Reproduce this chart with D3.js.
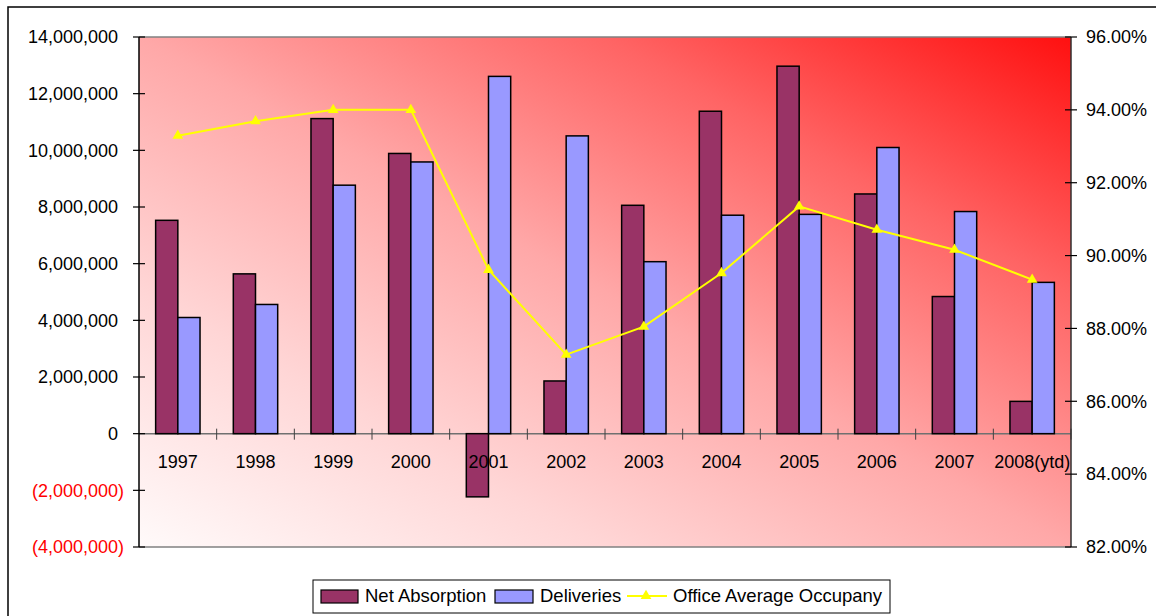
<!DOCTYPE html>
<html>
<head>
<meta charset="utf-8">
<script src="https://cdn.jsdelivr.net/npm/d3@7"></script>
<style>
  html, body { margin: 0; padding: 0; background: #fff; }
  svg { display: block; font-family: "Liberation Sans", Arial, sans-serif; }
</style>
</head>
<body>
<svg id="chart" width="1156" height="616"></svg>
<script>
// Office market: net absorption and deliveries (sq ft) with average occupancy
const categories = ["1997", "1998", "1999", "2000", "2001", "2002", "2003", "2004", "2005", "2006", "2007", "2008(ytd)"];
const netAbsorption = [7530000, 5640000, 11120000, 9890000, -2230000, 1860000, 8060000, 11380000, 12970000, 8460000, 4840000, 1140000];
const deliveries = [4100000, 4560000, 8770000, 9590000, 12610000, 10510000, 6070000, 7710000, 7740000, 10100000, 7840000, 5340000];
const occupancy = [93.29, 93.69, 94.00, 94.00, 89.61, 87.28, 88.05, 89.52, 91.35, 90.71, 90.16, 89.34];
const leftTicks = [14000000, 12000000, 10000000, 8000000, 6000000, 4000000, 2000000, 0, -2000000, -4000000];
const rightTicks = [96, 94, 92, 90, 88, 86, 84, 82];
const seriesNames = ["Net Absorption", "Deliveries", "Office Average Occupany"];

const svg = d3.select("#chart");
const plot = { left: 139, right: 1071, top: 37, bottom: 547 };
const FONT = 18;

// outer chart frame
svg.append("rect")
  .attr("x", 8).attr("y", 7).attr("width", 1160).attr("height", 620)
  .attr("fill", "#fff").attr("stroke", "#000").attr("stroke-width", 1.5);

// plot area gradient: white at lower left to red at upper right
const defs = svg.append("defs");
const grad = defs.append("linearGradient").attr("id", "plotFill")
  .attr("x1", 0).attr("y1", 1).attr("x2", 1).attr("y2", 0);
grad.append("stop").attr("offset", "0%").attr("stop-color", "#fffafa");
grad.append("stop").attr("offset", "25%").attr("stop-color", "#ffd6d6");
grad.append("stop").attr("offset", "50%").attr("stop-color", "#ffa8a8");
grad.append("stop").attr("offset", "75%").attr("stop-color", "#ff6464");
grad.append("stop").attr("offset", "100%").attr("stop-color", "#ff1010");

svg.append("rect")
  .attr("x", plot.left).attr("y", plot.top)
  .attr("width", plot.right - plot.left).attr("height", plot.bottom - plot.top)
  .attr("fill", "url(#plotFill)");

// scales
const x = d3.scaleBand().domain(categories).range([plot.left, plot.right]).padding(0);
const barW = x.step() / 3.5;
const xs = d3.scaleBand().domain(["na", "del"]).range([0, barW * 2]).padding(0);
const groupOffset = (x.step() - barW * 2) / 2;
const y = d3.scaleLinear().domain([-4000000, 14000000]).range([plot.bottom, plot.top]);
const y2 = d3.scaleLinear().domain([82, 96]).range([plot.bottom, plot.top]);

// plot area top and bottom edges
svg.append("line").attr("x1", plot.left).attr("x2", plot.right)
  .attr("y1", plot.top).attr("y2", plot.top).attr("stroke", "#808080").attr("stroke-width", 1.5);
svg.append("line").attr("x1", plot.left).attr("x2", plot.right)
  .attr("y1", plot.bottom).attr("y2", plot.bottom).attr("stroke", "#808080").attr("stroke-width", 1.5);

// category axis along zero
const zeroY = y(0);
svg.append("line").attr("x1", plot.left).attr("x2", plot.right)
  .attr("y1", zeroY).attr("y2", zeroY).attr("stroke", "#707070").attr("stroke-width", 1.5);
const catTicks = categories.slice(1).map(c => x(c)).concat([plot.right]);
svg.append("g").selectAll("line").data(catTicks).join("line")
  .attr("x1", d => d).attr("x2", d => d)
  .attr("y1", zeroY - 5).attr("y2", zeroY + 6)
  .attr("stroke", "#404040").attr("stroke-width", 1);

// bars
const bars = svg.append("g");
const rows = categories.map((c, i) => ({ c, na: netAbsorption[i], del: deliveries[i] }));
bars.selectAll("g").data(rows).join("g")
  .attr("transform", d => `translate(${x(d.c) + groupOffset},0)`)
  .selectAll("rect")
  .data(d => [{ k: "na", v: d.na }, { k: "del", v: d.del }])
  .join("rect")
  .attr("x", d => xs(d.k))
  .attr("width", xs.bandwidth())
  .attr("y", d => y(Math.max(0, d.v)))
  .attr("height", d => Math.abs(y(d.v) - y(0)))
  .attr("fill", d => d.k === "na" ? "#993366" : "#9999ff")
  .attr("stroke", "#000").attr("stroke-width", 1.5);

// category labels
svg.append("g").selectAll("text").data(categories).join("text")
  .attr("x", d => x(d) + x.bandwidth() / 2)
  .attr("y", zeroY + 34)
  .attr("text-anchor", "middle")
  .attr("font-size", FONT).attr("fill", "#000")
  .text(d => d);

// occupancy line
const line = d3.line()
  .x((d, i) => x(categories[i]) + x.bandwidth() / 2)
  .y(d => y2(d));
svg.append("path").datum(occupancy)
  .attr("d", line).attr("fill", "none")
  .attr("stroke", "#ffff00").attr("stroke-width", 2);
const tri = d3.symbol().type(d3.symbolTriangle).size(50);
svg.append("g").selectAll("path").data(occupancy).join("path")
  .attr("transform", (d, i) => `translate(${x(categories[i]) + x.bandwidth() / 2},${y2(d)})`)
  .attr("d", tri).attr("fill", "#ffff00");

// left value axis
const fmtNum = d3.format(",");
svg.append("line").attr("x1", plot.left).attr("x2", plot.left)
  .attr("y1", plot.top).attr("y2", plot.bottom).attr("stroke", "#000").attr("stroke-width", 1.5);
const lg = svg.append("g");
lg.selectAll("line").data(leftTicks).join("line")
  .attr("x1", plot.left - 6).attr("x2", plot.left + 6)
  .attr("y1", d => y(d)).attr("y2", d => y(d))
  .attr("stroke", "#000").attr("stroke-width", 1.2);
lg.selectAll("text").data(leftTicks).join("text")
  .attr("x", d => d < 0 ? 124 : 118)
  .attr("y", d => y(d))
  .attr("dy", "0.35em")
  .attr("text-anchor", "end")
  .attr("font-size", FONT)
  .attr("fill", d => d < 0 ? "#ff0000" : "#000")
  .text(d => d < 0 ? `(${fmtNum(-d)})` : fmtNum(d));

// right percentage axis
svg.append("line").attr("x1", plot.right).attr("x2", plot.right)
  .attr("y1", plot.top).attr("y2", plot.bottom).attr("stroke", "#303030").attr("stroke-width", 1.5);
const rg = svg.append("g");
rg.selectAll("line").data(rightTicks).join("line")
  .attr("x1", plot.right - 6).attr("x2", plot.right + 6)
  .attr("y1", d => y2(d)).attr("y2", d => y2(d))
  .attr("stroke", "#000").attr("stroke-width", 1.2);
rg.selectAll("text").data(rightTicks).join("text")
  .attr("x", 1086)
  .attr("y", d => y2(d))
  .attr("dy", "0.35em")
  .attr("font-size", FONT).attr("fill", "#000")
  .text(d => d.toFixed(2) + "%");

// legend
const leg = svg.append("g");
leg.append("rect").attr("x", 313).attr("y", 580).attr("width", 577).attr("height", 33)
  .attr("fill", "#fff").attr("stroke", "#000").attr("stroke-width", 1);
const legY = 596;
leg.append("rect").attr("x", 321).attr("y", legY - 6).attr("width", 37).attr("height", 13)
  .attr("fill", "#993366").attr("stroke", "#000").attr("stroke-width", 1.2);
leg.append("text").attr("x", 365).attr("y", legY).attr("dy", "0.35em")
  .attr("font-size", 18.5).text(seriesNames[0]);
leg.append("rect").attr("x", 495).attr("y", legY - 6).attr("width", 38).attr("height", 13)
  .attr("fill", "#9999ff").attr("stroke", "#000").attr("stroke-width", 1.2);
leg.append("text").attr("x", 540).attr("y", legY).attr("dy", "0.35em")
  .attr("font-size", 18.5).text(seriesNames[1]);
leg.append("line").attr("x1", 627).attr("x2", 667).attr("y1", legY).attr("y2", legY)
  .attr("stroke", "#ffff00").attr("stroke-width", 2);
leg.append("path").attr("transform", `translate(646,${legY})`).attr("d", tri).attr("fill", "#ffff00");
leg.append("text").attr("x", 673).attr("y", legY).attr("dy", "0.35em")
  .attr("font-size", 18.5).text(seriesNames[2]);
</script>
</body>
</html>
